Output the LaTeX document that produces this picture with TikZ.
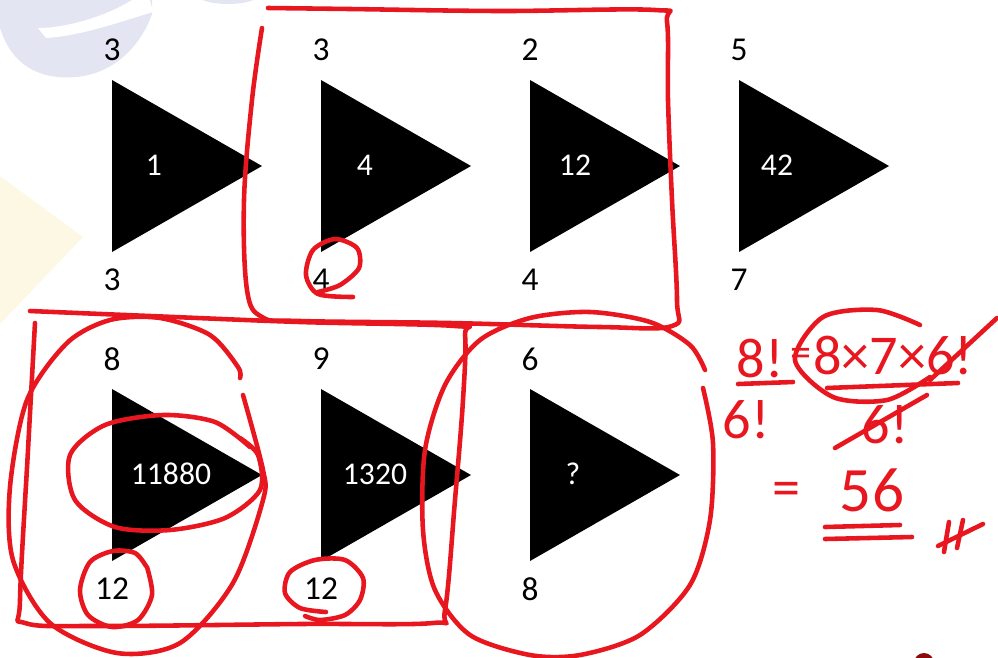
\documentclass[tikz,border=0pt]{standalone}
\usepackage{fontspec}
\setmainfont{Carlito}

\definecolor{penred}{HTML}{E8161E}
\definecolor{markred}{HTML}{8C0A0A}
\definecolor{wmblue}{HTML}{E4E5F2}
\definecolor{wmyellow}{HTML}{FDF8E3}

\begin{document}
\begin{tikzpicture}[x=0.02cm,y=-0.02cm,line width=0.8pt]
\tikzset{pen/.style={draw=penred,line width=2.6pt,line cap=round,line join=round},
  lbl/.style={font=\fontsize{19}{19}\selectfont,inner sep=0pt},
  val/.style={font=\fontsize{18}{18}\selectfont,text=white,inner sep=0pt},
  hand/.style={font=\fontsize{32}{32}\selectfont,text=penred,inner sep=0pt}}
\useasboundingbox (0,0) rectangle (998,657);
\clip (0,0) rectangle (998,657);
% ---- faint watermark ----
\fill[wmyellow] (0,176) -- (83,237) -- (0,324) -- cycle;
\fill[wmblue] (0,0) -- (0,28) .. controls (12,66) and (40,80) .. (76,77)
  .. controls (112,74) and (140,48) .. (152,14) -- (152,0) -- cycle;
\fill[white] (38,28) -- (46,38) .. controls (80,36) and (120,22) .. (153,12)
  -- (150,0) -- (132,0) .. controls (110,14) and (70,28) .. cycle;
\fill[wmblue] (228,-6) ellipse (32 and 10);
% ---- triangles: name/left/top/label above/value x/value/label below ----
\foreach \n/\x/\y/\t/\vx/\v/\b in {a/112/80/3/154/1/3, b/321/80/3/365/4/4,
    c/530/80/2/575/12/4, d/739/80/5/777/42/7, e/112/389/8/171/11880/12,
    f/321/389/9/375/1320/12, g/530/389/6/573/?/8}{
  \fill (\x,\y) -- ++(150,86) -- ++(-150,86) -- cycle;
  \node[lbl] (top-\n) at (\x,\y-30) {\t};
  \node[val] (val-\n) at (\vx,\y+85) {\v};
  \node[lbl] (bot-\n) at (\x,\y+200) {\b};
}
% ---- red boxes and loops ----
\draw[pen] plot[smooth,tension=0.6] coordinates {(262,28) (252,100) (244,200)
  (247,290) (262,317) (300,321) (450,323) (600,327) (672,326) (677,300)
  (672,200) (668,100) (667,22) (655,10) (500,11) (350,9) (268,8)};
\draw[pen] plot[smooth,tension=0.6] coordinates {(35,323) (28,450) (20,600)
  (25,623) (100,626) (300,624) (433,623) (445,610) (455,500) (463,400)
  (465,335) (455,326) (300,322) (150,316) (30,311)};
\draw[pen] plot[smooth] coordinates {(243,395) (263,470) (263,500) (233,583)
  (180,643) (117,653) (50,623) (13,560) (10,487) (27,400) (67,343) (110,320)
  (160,318) (210,335) (238,367) (240,378)};
\draw[pen] plot[smooth] coordinates {(250,447) (215,422) (163,415) (105,425)
  (70,455) (75,500) (115,527) (170,530) (225,518) (260,490) (258,455)
  (240,438)};
\draw[pen] plot[smooth] coordinates {(147,567) (152,595) (138,620) (112,627)
  (88,615) (80,590) (90,562) (113,551) (135,553) (146,566)};
\draw[pen] plot[smooth] coordinates {(326,612) (300,608) (285,593) (290,572)
  (315,560) (345,560) (363,578) (360,600) (345,615) (320,620) (305,616)};
\draw[pen] plot[smooth] coordinates {(705,370) (690,345) (650,322) (590,312)
  (530,318) (480,340) (445,385) (425,450) (423,530) (435,590) (470,635)
  (530,655) (580,655) (640,635) (690,585) (710,520) (713,443) (703,388)};
\draw[pen] plot[smooth] coordinates {(353,297) (318,294) (306,275) (313,250)
  (335,239) (357,248) (359,268) (340,285) (318,292)};
% ---- working for the missing value ----
\node[hand] (fac8) at (760,358) {8!};
\draw[pen] (738,384) -- (793,382);
\node[hand] (fac6) at (746,420) {6!};
\node[hand,font=\fontsize{24}{24}\selectfont] (eq1) at (801,357) {=};
\node[hand] (expand) at (893,355) {8×7×6!};
\draw[pen] (827,388) -- (958,383);
\draw[pen] (930,380) -- (997,318);
\node[hand] (cancel) at (885,425) {6!};
\draw[pen] (835,448) -- (927,395);
\draw[pen] plot[smooth] coordinates {(920,325) (877,310) (823,317) (795,360)
  (833,397) (887,400) (930,377)};
\node[hand] (eq2) at (786,494) {=};
\node[hand,font=\fontsize{36}{36}\selectfont] (result) at (872,490) {56};
\draw[pen] (825,527) -- (900,525);
\draw[pen] (825,539) -- (912,537);
\draw[pen] (949,522) -- (944,552);
\draw[pen] (963,520) -- (957,548);
\draw[pen] (938,546) -- (983,524);
\fill[markred] (924,663) circle (10);
\end{tikzpicture}
\end{document}
